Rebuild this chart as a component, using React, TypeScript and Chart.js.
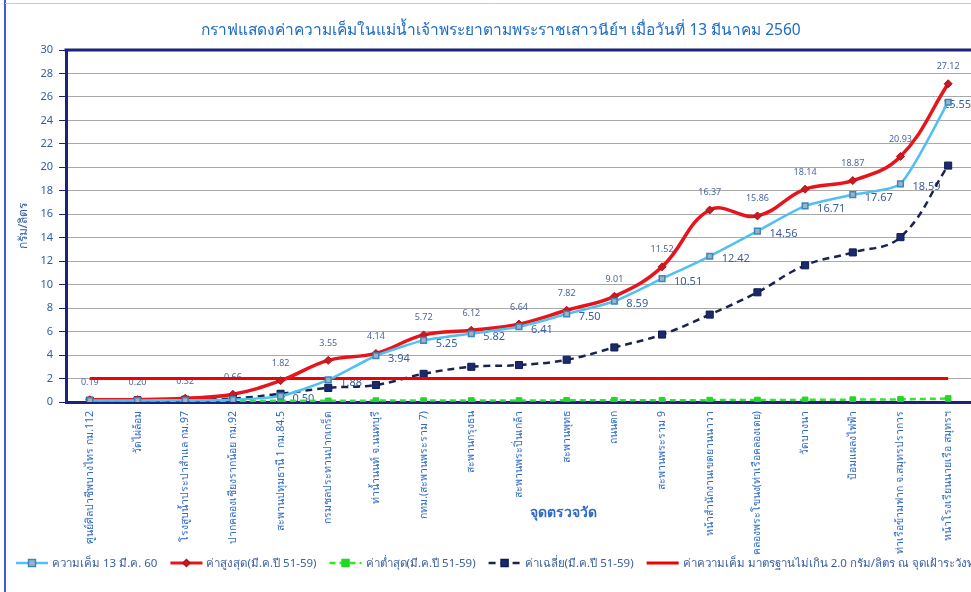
import React, { useEffect, useRef } from 'react';
import { Chart, registerables } from 'chart.js';
Chart.register(...registerables);

const titleText = 'กราฟแสดงค่าความเค็มในแม่น้ำเจ้าพระยาตามพระราชเสาวนีย์ฯ เมื่อวันที่ 13 มีนาคม 2560';
const xTitle = 'จุดตรวจวัด';
const yTitle = 'กรัม/ลิตร';

const stations = [
  'ศูนย์ศิลปาชีพบางไทร กม.112',
  'วัดไผ่ล้อม',
  'โรงสูบน้ำประปาสำแล กม.97',
  'ปากคลองเชียงรากน้อย กม.92',
  'สะพานปทุมธานี 1 กม.84.5',
  'กรมชลประทานปากเกร็ด',
  'ท่าน้ำนนท์ จ.นนทบุรี',
  'กทม.(สะพานพระราม 7)',
  'สะพานกรุงธน',
  'สะพานพระปิ่นเกล้า',
  'สะพานพุทธ',
  'ถนนตก',
  'สะพานพระราม 9',
  'หน้าสำนักงานเขตยานนาวา',
  'คลองพระโขนง(ท่าเรือคลองเตย)',
  'วัดบางนา',
  'ป้อมแผลงไฟฟ้า',
  'ท่าเรือข้ามฟาก จ.สมุทรปราการ',
  'หน้าโรงเรียนนายเรือ สมุทรฯ',
];

const salinity13Mar60 = [0.12, 0.13, 0.15, 0.2, 0.5, 1.88, 3.94, 5.25, 5.82, 6.41, 7.5, 8.59, 10.51, 12.42, 14.56, 16.71, 17.67, 18.59, 25.55];
const maxMar5159 = [0.19, 0.2, 0.32, 0.66, 1.82, 3.55, 4.14, 5.72, 6.12, 6.64, 7.82, 9.01, 11.52, 16.37, 15.86, 18.14, 18.87, 20.93, 27.12];
const minMar5159 = [0.1, 0.1, 0.1, 0.1, 0.1, 0.1, 0.12, 0.12, 0.13, 0.13, 0.14, 0.15, 0.15, 0.16, 0.17, 0.18, 0.2, 0.22, 0.3];
const avgMar5159 = [0.12, 0.15, 0.2, 0.3, 0.7, 1.2, 1.45, 2.4, 3.0, 3.15, 3.6, 4.65, 5.75, 7.45, 9.35, 11.65, 12.75, 14.05, 20.15];
const standardLimit = [2.0, 2.0, 2.0, 2.0, 2.0, 2.0, 2.0, 2.0, 2.0, 2.0, 2.0, 2.0, 2.0, 2.0, 2.0, 2.0, 2.0, 2.0, 2.0];

const seriesLabels = [
  'ความเค็ม 13 มี.ค. 60',
  'ค่าสูงสุด(มี.ค.ปี 51-59)',
  'ค่าต่ำสุด(มี.ค.ปี 51-59)',
  'ค่าเฉลี่ย(มี.ค.ปี 51-59)',
  'ค่าความเค็ม มาตรฐานไม่เกิน 2.0 กรัม/ลิตร ณ จุดเฝ้าระวังท่าน้ำนนท์',
];

const FONT = "'Noto Sans', 'DejaVu Sans', sans-serif";
const TEXT_BLUE = '#2f5da8';
const NAVY = '#1b237a';
const CANVAS_W = 978;
const VIEW_W = 971;

function drawMarker(ctx: CanvasRenderingContext2D, style: string, x: number, y: number, r: number, fill: string, stroke: string) {
  ctx.save();
  ctx.fillStyle = fill;
  ctx.strokeStyle = stroke;
  ctx.lineWidth = 1.5;
  ctx.setLineDash([]);
  ctx.beginPath();
  if (style === 'rectRot') {
    ctx.moveTo(x, y - r);
    ctx.lineTo(x + r, y);
    ctx.lineTo(x, y + r);
    ctx.lineTo(x - r, y);
    ctx.closePath();
  } else {
    ctx.rect(x - r, y - r, 2 * r, 2 * r);
  }
  ctx.fill();
  ctx.stroke();
  ctx.restore();
}

const decorPlugin = {
  id: 'decor',
  beforeDatasetsDraw(chart: any) {
    const ctx: CanvasRenderingContext2D = chart.ctx;
    ctx.save();
    const metaMax = chart.getDatasetMeta(1);
    ctx.font = `9px ${FONT}`;
    ctx.fillStyle = '#4a67a0';
    ctx.textAlign = 'center';
    ctx.textBaseline = 'middle';
    metaMax.data.forEach((pt: any, i: number) => {
      ctx.fillText(maxMar5159[i].toFixed(2), pt.x, pt.y - 17);
    });
    const metaCur = chart.getDatasetMeta(0);
    ctx.font = `11px ${FONT}`;
    ctx.fillStyle = '#3a5f9e';
    ctx.textAlign = 'left';
    metaCur.data.forEach((pt: any, i: number) => {
      if (salinity13Mar60[i] < 0.4) return;
      const txt = salinity13Mar60[i].toFixed(2);
      const w = ctx.measureText(txt).width;
      const tx = Math.min(pt.x + 12, VIEW_W - w);
      ctx.fillText(txt, tx, pt.y + 3);
    });
    ctx.restore();
  },
  afterDraw(chart: any) {
    const ctx: CanvasRenderingContext2D = chart.ctx;
    const area = chart.chartArea;
    ctx.save();
    ctx.strokeStyle = '#3d5bd6';
    ctx.lineWidth = 2;
    ctx.beginPath();
    ctx.moveTo(5, 0);
    ctx.lineTo(5, 592);
    ctx.stroke();
    ctx.strokeStyle = '#b5cdf0';
    ctx.lineWidth = 1;
    ctx.beginPath();
    ctx.moveTo(5, 3.5);
    ctx.lineTo(CANVAS_W, 3.5);
    ctx.stroke();
    ctx.strokeStyle = NAVY;
    ctx.lineWidth = 3;
    ctx.beginPath();
    ctx.moveTo(area.left - 1.5, area.top);
    ctx.lineTo(CANVAS_W, area.top);
    ctx.stroke();
    ctx.font = `15.5px ${FONT}`;
    ctx.fillStyle = '#1f6cc4';
    ctx.textAlign = 'center';
    ctx.textBaseline = 'middle';
    ctx.fillText(titleText, 501, 31);
    ctx.font = `bold 14px ${FONT}`;
    ctx.fillStyle = '#2f6ac4';
    ctx.fillText(xTitle, 563, 513);
    ctx.font = `11.5px ${FONT}`;
    ctx.textAlign = 'left';
    let x = 16;
    const y = 563;
    const legendOrder = [0, 1, 2, 3, 4];
    legendOrder.forEach((di) => {
      const ds = chart.data.datasets[di];
      ctx.save();
      ctx.strokeStyle = ds.borderColor;
      ctx.lineWidth = Math.min(ds.borderWidth, 3);
      ctx.setLineDash(ds.borderDash || []);
      ctx.beginPath();
      ctx.moveTo(x, y);
      ctx.lineTo(x + 32, y);
      ctx.stroke();
      ctx.restore();
      if (ds.pointRadius > 0) {
        drawMarker(ctx, ds.pointStyle, x + 16, y, 3.5, ds.pointBackgroundColor, ds.pointBorderColor);
      }
      ctx.fillStyle = '#3a5f9e';
      ctx.fillText(ds.label, x + 36, y + 1);
      x += 36 + ctx.measureText(ds.label).width + 13;
    });
    ctx.restore();
  },
};

export default function App() {
  const ref = useRef<HTMLCanvasElement | null>(null);
  useEffect(() => {
    if (!ref.current) return;
    const chart = new Chart(ref.current, {
      type: 'line',
      data: {
        labels: stations,
        datasets: [
          {
            label: seriesLabels[0],
            data: salinity13Mar60,
            borderColor: '#4fc0ef',
            borderWidth: 2.5,
            pointStyle: 'rect',
            pointRadius: 4,
            pointBackgroundColor: '#9fb2bf',
            pointBorderColor: '#3a86c0',
            pointBorderWidth: 1.5,
            tension: 0.2,
            order: 0,
          },
          {
            label: seriesLabels[1],
            data: maxMar5159,
            borderColor: '#e8141c',
            borderWidth: 3.5,
            pointStyle: 'rectRot',
            pointRadius: 4,
            pointBackgroundColor: '#c81a22',
            pointBorderColor: '#b01018',
            pointBorderWidth: 1,
            tension: 0.4,
            order: 1,
          },
          {
            label: seriesLabels[2],
            data: minMar5159,
            borderColor: '#2ee82e',
            borderWidth: 2.5,
            borderDash: [6, 4],
            pointStyle: 'rect',
            pointRadius: 4,
            pointBackgroundColor: '#22d822',
            pointBorderColor: '#22d822',
            pointBorderWidth: 1,
            tension: 0,
            order: 4,
          },
          {
            label: seriesLabels[3],
            data: avgMar5159,
            borderColor: '#1a2250',
            borderWidth: 2.5,
            borderDash: [7, 5],
            pointStyle: 'rect',
            pointRadius: 5,
            pointBackgroundColor: '#1a2a6e',
            pointBorderColor: '#111a50',
            pointBorderWidth: 1,
            tension: 0.4,
            order: 3,
          },
          {
            label: seriesLabels[4],
            data: standardLimit,
            borderColor: '#f00000',
            borderWidth: 3,
            pointRadius: 0,
            pointStyle: 'rect',
            pointBackgroundColor: '#f00000',
            pointBorderColor: '#f00000',
            tension: 0,
            order: 2,
          },
        ] as any,
      },
      options: {
        animation: false,
        responsive: false,
        maintainAspectRatio: false,
        layout: { padding: { left: 0, top: 50, right: 0, bottom: 0 } },
        plugins: {
          legend: { display: false },
          title: { display: false },
          tooltip: { enabled: false },
        },
        scales: {
          x: {
            type: 'category',
            offset: true,
            grid: { display: false, drawTicks: false },
            border: { color: NAVY, width: 3 },
            ticks: {
              autoSkip: false,
              maxRotation: 90,
              minRotation: 90,
              font: { size: 10.5, family: FONT },
              color: '#2f6ac4',
              padding: 9,
            },
            afterFit: (s: any) => {
              s.height = 190;
            },
          },
          y: {
            min: 0,
            max: 30,
            ticks: {
              stepSize: 2,
              font: { size: 11, family: FONT },
              color: TEXT_BLUE,
              padding: 6,
            },
            grid: { color: '#a9a9a9', lineWidth: 1, tickLength: 7, tickColor: NAVY, tickWidth: 1 },
            border: { color: NAVY, width: 3 },
            title: {
              display: true,
              text: yTitle,
              color: TEXT_BLUE,
              font: { size: 12, family: FONT },
              padding: { top: 16, bottom: 0 },
            },
            afterFit: (s: any) => {
              s.width = 66;
            },
          },
        },
      } as any,
      plugins: [decorPlugin],
    });
    return () => chart.destroy();
  }, []);
  return (
    <div style={{ position: 'absolute', left: 0, top: 0, width: VIEW_W, height: 592, overflow: 'hidden', background: '#fff' }}>
      <canvas ref={ref} width={CANVAS_W} height={592} />
    </div>
  );
}
